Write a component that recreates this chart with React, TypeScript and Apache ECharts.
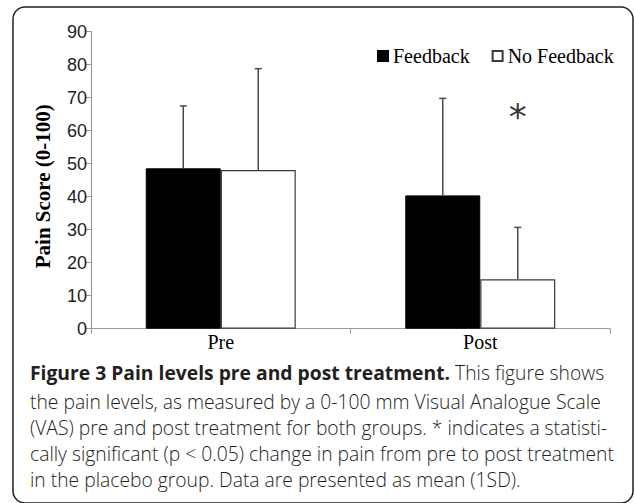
import React, { useEffect, useRef } from "react";
import * as echarts from "echarts";

const categories = ["Pre", "Post"];
const seriesNames = ["Feedback", "No Feedback"];
const feedbackMean = [48.6, 40.4];
const feedbackSD = [18.9, 29.4];
const noFeedbackMean = [48.1, 15.0];
const noFeedbackSD = [30.7, 15.7];
const yMin = 0;
const yMax = 90;
const yInterval = 10;
const yAxisTitle = "Pain Score (0-100)";
const significance = [{ category: "Post", value: 64.2, mark: "*" }];
const captionBold = "Figure 3 Pain levels pre and post treatment.";
const captionLines = [
  " This figure shows",
  "the pain levels, as measured by a 0-100 mm Visual Analogue Scale",
  "(VAS) pre and post treatment for both groups. * indicates a statisti-",
  "cally significant (p < 0.05) change in pain from pre to post treatment",
  "in the placebo group. Data are presented as mean (1SD).",
];

const BAR_W = 75;

export default function App() {
  const ref = useRef<HTMLDivElement>(null);
  useEffect(() => {
    document.body.style.margin = "0";
    const chart = echarts.init(ref.current!, undefined, { renderer: "svg" });

    const errData = (means: number[], sds: number[]) =>
      means.map((m, i) => [i, m, m + sds[i]]);

    const errSeries = (name: string, means: number[], sds: number[], offset: number) => ({
      type: "custom",
      name: name + " SD",
      z: 5,
      silent: true,
      encode: { x: 0, y: [1, 2] },
      data: errData(means, sds),
      renderItem: (params: any, api: any) => {
        const c = api.value(0);
        const p1 = api.coord([c, api.value(1)]);
        const p2 = api.coord([c, api.value(2)]);
        const x = p1[0] + offset;
        const st = { stroke: "#4a4a4a", lineWidth: 1.5 };
        return {
          type: "group",
          children: [
            { type: "line", shape: { x1: x, y1: p1[1], x2: x, y2: p2[1] }, style: st },
            { type: "line", shape: { x1: x - 3.5, y1: p2[1], x2: x + 3.5, y2: p2[1] }, style: st },
          ],
        };
      },
    });

    const captionGraphics: any[] = [];
    const baselines = [383.5, 409.3, 435.1, 460.9, 486.7];
    const capFont = "'Open Sans', 'Noto Sans', sans-serif";
    const capSize = 19.3;
    const capTopShift = 20.5;
    captionGraphics.push({
      type: "text",
      left: 30,
      top: baselines[0] - capTopShift,
      style: {
        text: "{b|" + captionBold + "}{r|" + captionLines[0] + "}",
        rich: {
          b: { fontFamily: capFont, fontWeight: "bold", fontSize: capSize, fill: "#231f20", lineHeight: 26 },
          r: { fontFamily: capFont, fontWeight: 300, fontSize: capSize, fill: "#231f20", lineHeight: 26 },
        },
      },
    });
    for (let i = 1; i < captionLines.length; i++) {
      captionGraphics.push({
        type: "text",
        left: 30,
        top: baselines[i] - capTopShift,
        style: {
          text: captionLines[i],
          fontFamily: capFont,
          fontWeight: 300,
          fontSize: capSize,
          fill: "#231f20",
          lineHeight: 26,
        },
      });
    }

    chart.setOption({
      animation: false,
      backgroundColor: "#ffffff",
      grid: { left: 91, right: 24, top: 31.7, bottom: 174.3, containLabel: false },
      legend: {
        data: seriesNames,
        left: 372,
        top: 41,
        icon: "rect",
        itemWidth: 10,
        itemHeight: 10,
        itemGap: 22,
        textStyle: { fontFamily: "'Liberation Serif', serif", fontSize: 20, color: "#000" },
      },
      xAxis: {
        type: "category",
        data: categories,
        axisLine: { lineStyle: { color: "#9a9a9a", width: 1.2 } },
        axisTick: { show: true, length: 5, lineStyle: { color: "#9a9a9a" } },
        axisLabel: { fontFamily: "'Liberation Serif', serif", fontSize: 20, color: "#000", margin: 3 },
      },
      yAxis: {
        type: "value",
        min: yMin,
        max: yMax,
        interval: yInterval,
        name: yAxisTitle,
        nameLocation: "middle",
        nameRotate: 90,
        nameGap: 38,
        nameTextStyle: {
          fontFamily: "'Liberation Serif', serif",
          fontWeight: "bold",
          fontSize: 21,
          color: "#000",
          padding: [0, 12, 0, 0],
        },
        axisLine: { show: true, lineStyle: { color: "#9a9a9a", width: 1.2 } },
        axisTick: { show: true, length: 5, lineStyle: { color: "#9a9a9a" } },
        axisLabel: { fontFamily: "'Liberation Sans', Arial, sans-serif", fontSize: 18, color: "#222", margin: 4 },
        splitLine: { show: false },
      },
      series: [
        {
          type: "bar",
          name: seriesNames[0],
          data: feedbackMean,
          barWidth: BAR_W,
          barGap: "0%",
          itemStyle: { color: "#000", borderColor: "#000", borderWidth: 1 },
        },
        {
          type: "bar",
          name: seriesNames[1],
          data: noFeedbackMean,
          barWidth: BAR_W,
          barGap: "0%",
          itemStyle: { color: "#fff", borderColor: "#3a3a3a", borderWidth: 1.2 },
        },
        errSeries(seriesNames[0], feedbackMean, feedbackSD, -BAR_W / 2),
        errSeries(seriesNames[1], noFeedbackMean, noFeedbackSD, BAR_W / 2),
        {
          type: "scatter",
          name: "significance",
          silent: true,
          symbolSize: 0,
          data: significance.map((s) => [s.category, s.value]),
          label: {
            show: true,
            position: "inside",
            offset: [BAR_W / 2, 0],
            formatter: (p: any) => significance[p.dataIndex].mark,
            fontFamily: "'DejaVu Sans', sans-serif",
            fontSize: 36,
            color: "#000",
          },
          z: 6,
        },
      ],
      graphic: [
        {
          type: "rect",
          shape: { x: 13, y: 7, width: 620, height: 496, r: 12 },
          style: { fill: "none", stroke: "#222", lineWidth: 1.5 },
          z: 10,
        },
        ...captionGraphics,
      ],
    });
    return () => chart.dispose();
  }, []);
  return <div ref={ref} style={{ width: 634, height: 503 }} />;
}
